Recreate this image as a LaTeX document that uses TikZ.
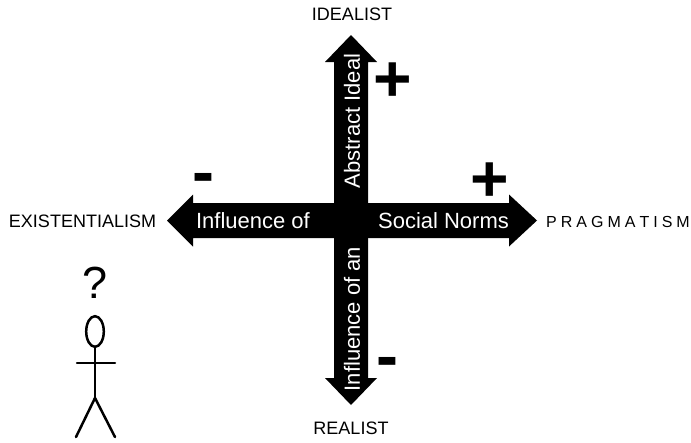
\documentclass[tikz,border=0pt]{standalone}
\usepackage{fontspec}
\setmainfont{Liberation Sans}
\begin{document}
\begin{tikzpicture}[x=1pt,y=-1pt,
  axislabel/.style={font=\fontsize{18}{20}\selectfont, inner sep=0pt},
  armtext/.style={text=white, font=\fontsize{22}{24}\selectfont, inner sep=0pt},
  sign/.style={font=\bfseries\fontsize{66}{70}\selectfont, inner sep=0pt, anchor=north},
  limb/.style={line width=2.5pt, line cap=round}]
\useasboundingbox (0,0) rectangle (691,442);

% tips of the two double arrows
\coordinate (top) at (351,35);
\coordinate (bot) at (351,405);
\coordinate (lft) at (167,220.5);
\coordinate (rgt) at (537,220.5);

% vertical double arrow
\fill (top) -- ([shift={(26,27)}]top) -- ([shift={(17,27)}]top)
  -- ([shift={(17,-27)}]bot) -- ([shift={(26,-27)}]bot) -- (bot)
  -- ([shift={(-26,-27)}]bot) -- ([shift={(-17,-27)}]bot)
  -- ([shift={(-17,27)}]top) -- ([shift={(-26,27)}]top) -- cycle;

% horizontal double arrow
\fill (lft) -- ([shift={(26,-26)}]lft) -- ([shift={(26,-17.5)}]lft)
  -- ([shift={(-28,-17.5)}]rgt) -- ([shift={(-28,-26)}]rgt) -- (rgt)
  -- ([shift={(-28,26)}]rgt) -- ([shift={(-28,17.5)}]rgt)
  -- ([shift={(26,17.5)}]lft) -- ([shift={(26,26)}]lft) -- cycle;

% texts on the arms
\node[armtext] (infl) at (253,220.5) {Influence of};
\node[armtext] (norms) at (443.5,220.5) {Social Norms};
\node[armtext, rotate=90] (ideal) at (352,121) {Abstract Ideal};
\node[armtext, rotate=90] (inflan) at (352,319) {Influence of an};

% pole names
\node[axislabel] (idealist) at (352,14) {IDEALIST};
\node[axislabel] (realist) at (351,428) {REALIST};
\node[axislabel] (exist) at (82.5,221.5) {EXISTENTIALISM};
\node[axislabel, font=\fontsize{16}{18}\selectfont, anchor=west] (pragm) at (546,221.5)
  {P\kern4pt R\kern4pt A\kern4pt G\kern4pt M\kern4pt A\kern4pt T\kern4pt I\kern4pt S\kern4pt M};

% signs
\node[sign] (plusup) at (393,63) {+};
\node[sign] (plusright) at (490,163) {+};
\node[sign] (minusleft) at (203,173) {-};
\node[sign] (minusdown) at (387,357) {-};

% stick figure with question mark
\node[inner sep=0pt, anchor=north, font=\fontsize{45}{50}\selectfont] (quest) at (95,267) {?};
\draw[line width=2.5pt] (95,331.5) ellipse [x radius=8.8, y radius=15.3];
\coordinate (neck) at (95,348);
\coordinate (hip) at (95,398);
\draw[limb] (neck) -- (hip);
\draw[limb] (77,363) -- (115,363);
\draw[limb] (hip) -- (76,437);
\draw[limb] (hip) -- (115,437);
\end{tikzpicture}
\end{document}
